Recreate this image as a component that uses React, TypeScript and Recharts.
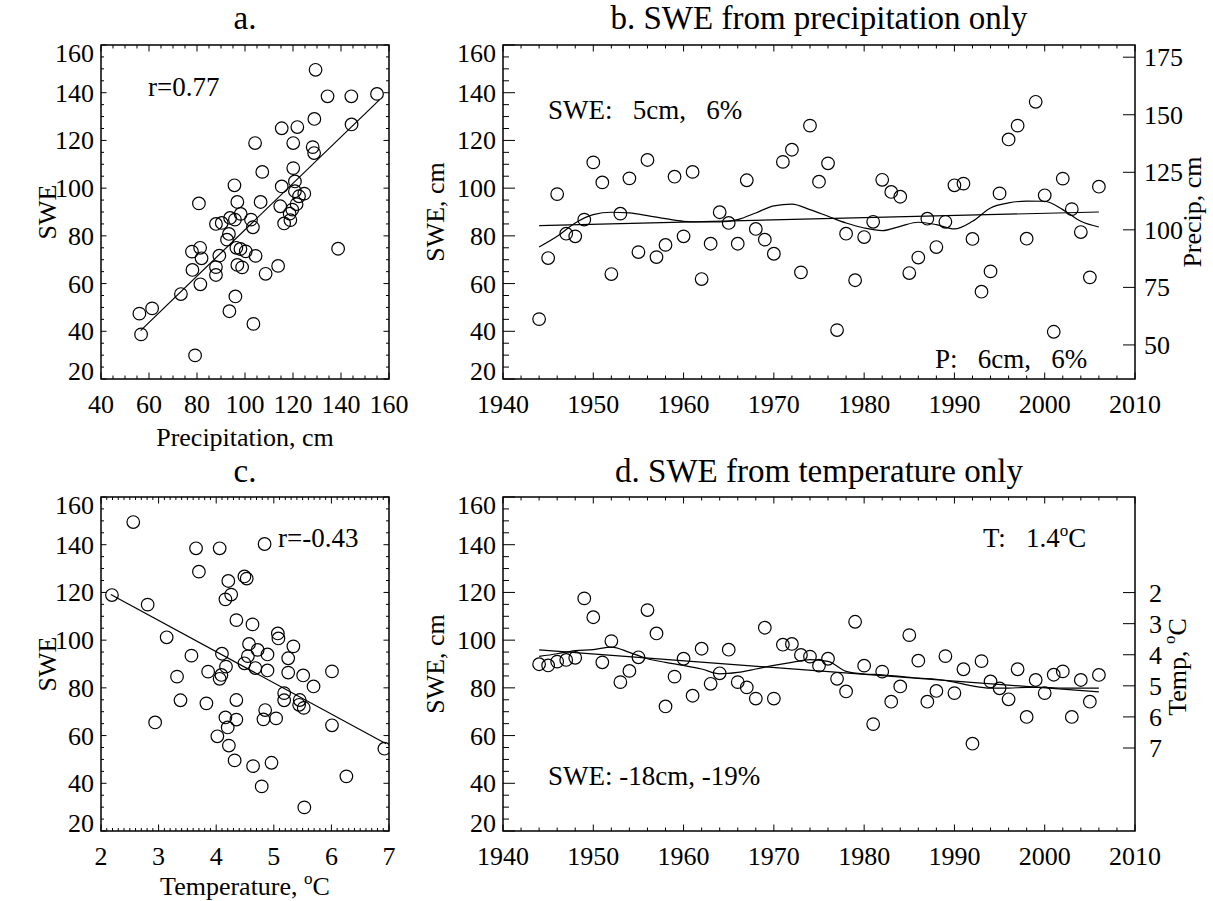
import React from 'react';
import { ComposedChart, Scatter, Line, XAxis, YAxis, ReferenceArea } from 'recharts';

const FONT = "'Liberation Serif', 'Times New Roman', Times, serif";
const INK = '#000';

// ---- panel a: SWE vs precipitation
const PRECIP_A = [129.4, 134.4, 144.3, 155.0, 128.9, 144.4, 115.3, 121.8, 120.1, 104.2, 128.2, 128.8, 107.2, 120.1, 120.8, 95.6, 115.3, 120.8, 122.5, 124.7, 96.8, 106.5, 80.8, 121.5, 114.7, 119.7, 98.2, 118.6, 93.8, 95.8, 90.3, 87.9, 102.5, 118.9, 116.3, 103.3, 93.3, 92.5, 81.3, 77.9, 96.4, 98.1, 100.3, 81.9, 89.3, 104.4, 138.8, 78.1, 87.9, 96.8, 98.8, 113.8, 108.6, 87.9, 81.4, 73.3, 96.0, 61.3, 56.0, 93.5, 56.7, 103.5, 79.2];
const SWE_A = [149.6, 138.5, 138.5, 139.5, 129.0, 126.7, 125.1, 125.6, 118.9, 118.9, 117.2, 114.7, 106.8, 108.4, 102.8, 101.2, 100.7, 98.7, 96.6, 97.7, 94.2, 94.2, 93.6, 93.3, 92.4, 91.0, 89.2, 89.3, 87.5, 86.8, 85.4, 85.0, 86.8, 86.6, 85.2, 83.6, 80.8, 78.4, 75.0, 73.4, 75.0, 74.5, 73.5, 70.6, 71.7, 71.6, 74.6, 65.7, 66.9, 67.8, 66.8, 67.4, 64.1, 63.6, 59.7, 55.6, 54.6, 49.6, 47.4, 48.4, 38.7, 43.1, 29.9];
const FIT_A_X = [56.5, 156];
const FIT_A_Y = [40.3, 137.0];

// ---- panel c: SWE vs temperature
const TEMP_C = [2.56, 2.19, 2.81, 3.14, 3.57, 3.32, 3.38, 2.94, 3.65, 4.06, 3.70, 3.86, 3.83, 4.49, 4.53, 4.21, 4.26, 4.16, 4.84, 4.35, 4.63, 4.10, 4.17, 4.09, 4.06, 4.57, 4.55, 4.49, 4.72, 4.68, 4.89, 4.89, 5.07, 5.08, 5.34, 5.25, 5.25, 5.51, 5.69, 5.18, 5.18, 5.45, 5.44, 5.52, 6.01, 6.01, 4.35, 4.16, 4.35, 4.85, 4.82, 5.04, 4.20, 4.02, 4.22, 4.32, 4.64, 4.96, 4.79, 6.26, 5.53, 6.92];
const SWE_C = [149.5, 118.9, 114.9, 101.2, 93.5, 84.7, 74.8, 65.5, 138.5, 138.5, 128.7, 86.8, 73.5, 126.7, 125.8, 124.8, 119.1, 117.1, 140.3, 108.4, 106.6, 94.3, 88.9, 85.4, 83.8, 98.4, 93.3, 90.3, 95.9, 88.3, 94.0, 87.3, 102.8, 100.7, 97.4, 92.4, 86.4, 85.2, 80.6, 77.8, 74.8, 74.9, 72.9, 71.6, 86.9, 64.3, 74.9, 67.6, 66.7, 70.7, 66.8, 67.2, 63.4, 59.7, 55.8, 49.6, 47.2, 48.6, 38.7, 42.9, 29.9, 54.5];
const FIT_C_X = [2.17, 6.95];
const FIT_C_Y = [119.1, 56.6];

// ---- panels b, d: yearly series
const YEARS = [1944, 1945, 1946, 1947, 1948, 1949, 1950, 1951, 1952, 1953, 1954, 1955, 1956, 1957, 1958, 1959, 1960, 1961, 1962, 1963, 1964, 1965, 1966, 1967, 1968, 1969, 1970, 1971, 1972, 1973, 1974, 1975, 1976, 1977, 1978, 1979, 1980, 1981, 1982, 1983, 1984, 1985, 1986, 1987, 1988, 1989, 1990, 1991, 1992, 1993, 1994, 1995, 1996, 1997, 1998, 1999, 2000, 2001, 2002, 2003, 2004, 2005, 2006];
const SWE_B = [45.1, 70.7, 97.5, 80.9, 79.8, 86.8, 110.8, 102.4, 64.0, 89.3, 104.1, 73.2, 111.8, 71.1, 76.2, 104.8, 79.8, 106.8, 61.9, 76.7, 89.9, 85.4, 76.7, 103.3, 82.9, 78.4, 72.5, 111.0, 116.1, 64.7, 126.2, 102.7, 110.4, 40.5, 80.9, 61.4, 79.5, 85.9, 103.5, 98.4, 96.4, 64.4, 70.9, 87.2, 75.3, 85.9, 101.2, 101.9, 78.7, 56.6, 65.1, 97.8, 120.4, 126.2, 78.8, 136.2, 97.0, 39.8, 104.0, 91.2, 81.6, 62.6, 100.6];
const SWE_D = [89.9, 89.4, 91.0, 91.7, 92.6, 117.5, 109.6, 90.7, 99.6, 82.4, 87.1, 92.8, 112.6, 102.8, 72.2, 84.7, 92.2, 76.7, 96.4, 81.7, 86.1, 96.0, 82.4, 80.2, 75.5, 105.2, 75.5, 98.1, 98.4, 93.8, 93.1, 89.3, 92.2, 83.8, 78.5, 107.7, 89.3, 64.8, 86.8, 74.2, 80.6, 102.1, 91.4, 74.2, 78.7, 93.3, 77.8, 87.8, 56.6, 91.2, 82.7, 79.8, 75.2, 87.8, 67.8, 83.3, 77.8, 85.5, 86.9, 67.8, 83.3, 74.2, 85.4];

const SMOOTH_YEARS = [1944, 1946, 1948, 1950, 1952, 1954, 1956, 1958, 1960, 1962, 1964, 1966, 1968, 1970, 1972, 1974, 1976, 1978, 1980, 1982, 1984, 1986, 1988, 1990, 1992, 1994, 1996, 1998, 2000, 2002, 2004, 2006];
const SMOOTH_B = [75.3, 79.8, 85.4, 88.9, 89.9, 89.6, 88.5, 87.2, 86.1, 85.8, 85.8, 86.8, 89.6, 92.6, 93.3, 91.0, 88.2, 85.4, 83.3, 82.2, 84.0, 85.7, 84.7, 82.9, 86.1, 91.7, 93.8, 94.6, 94.5, 91.0, 86.1, 83.7];
const SMOOTH_D = [93.2, 94.3, 95.6, 96.0, 97.1, 94.9, 92.2, 90.7, 89.4, 87.9, 85.9, 86.5, 87.9, 89.4, 90.7, 91.8, 91.1, 86.9, 85.8, 85.5, 84.8, 84.1, 83.6, 82.4, 80.8, 79.9, 79.9, 80.2, 80.2, 79.9, 79.9, 79.9];

const TREND_YEARS = [1944, 2006];
const TREND_B = [84.3, 90.0];
const TREND_D = [95.9, 78.3];

// axis ticks
const SWE_TICKS = [20, 40, 60, 80, 100, 120, 140, 160];
const PRECIP_TICKS = [40, 60, 80, 100, 120, 140, 160];
const TEMP_TICKS = [2, 3, 4, 5, 6, 7];
const YEAR_TICKS = [1940, 1950, 1960, 1970, 1980, 1990, 2000, 2010];
const PRECIP_RIGHT_TICKS = [50, 75, 100, 125, 150, 175];
const TEMP_RIGHT_TICKS = [2, 3, 4, 5, 6, 7];

const pts = (xs: number[], ys: number[]) => xs.map((x, i) => ({ x, y: ys[i] }));

function steps(lo: number, hi: number, step: number) {
  const out: number[] = [];
  const n = Math.round((hi - lo) / step);
  for (let i = 0; i <= n; i++) out.push(Math.round((lo + i * step) * 1000) / 1000);
  return out;
}

type Box = { l: number; r: number; t: number; b: number };

const isIn = (v: number, list: number[]) => list.some((m) => Math.abs(m - v) < 1e-6);

function xTick(box: Box, majors: number[], majLen: number, minLen: number) {
  return (p: any) => {
    const v = p.payload.value;
    const major = isIn(v, majors);
    const len = major ? majLen : minLen;
    return (
      <g>
        <line x1={p.x} x2={p.x} y1={box.b} y2={box.b - len} stroke={INK} strokeWidth={1} />
        <line x1={p.x} x2={p.x} y1={box.t} y2={box.t + len} stroke={INK} strokeWidth={1} />
        {major && (
          <text x={p.x} y={box.b + 34} textAnchor="middle" fontSize={26} fontFamily={FONT} fill={INK}>
            {v}
          </text>
        )}
      </g>
    );
  };
}

function yTick(box: Box, majors: number[], majLen: number, minLen: number, dom: number[], mirror: boolean) {
  return (p: any) => {
    const v = p.payload.value;
    const major = isIn(v, majors);
    const len = major ? majLen : minLen;
    let shift = 0;
    if (Math.abs(v - dom[1]) < 1e-6) shift = 8;
    if (Math.abs(v - dom[0]) < 1e-6) shift = -8;
    return (
      <g>
        <line x1={box.l} x2={box.l + len} y1={p.y} y2={p.y} stroke={INK} strokeWidth={1} />
        {mirror && <line x1={box.r} x2={box.r - len} y1={p.y} y2={p.y} stroke={INK} strokeWidth={1} />}
        {major && (
          <text x={box.l - 7} y={p.y + shift + 9} textAnchor="end" fontSize={26} fontFamily={FONT} fill={INK}>
            {v}
          </text>
        )}
      </g>
    );
  };
}

function rightTick(box: Box, len: number, gap: number) {
  return (p: any) => (
    <g>
      <line x1={box.r} x2={box.r - len} y1={p.y} y2={p.y} stroke={INK} strokeWidth={1} />
      <text x={box.r + gap} y={p.y + 9} textAnchor="start" fontSize={26} fontFamily={FONT} fill={INK}>
        {p.payload.value}
      </text>
    </g>
  );
}

const circle = (p: any) => (
  <circle cx={p.cx} cy={p.cy} r={6.3} fill="none" stroke={INK} strokeWidth={1.2} />
);

const CH = 460;
const PLOT_H = 334;
const X_AXIS_H = 81;

function ScatterPanel(props: {
  data: { x: number; y: number }[];
  fit: { x: number; y: number }[];
  xDom: number[];
  xTicks: number[];
  xMajors: number[];
  xMinLen: number;
  top: number;
}) {
  const { data, fit, xDom, xTicks, xMajors, xMinLen, top } = props;
  const yW = 101;
  const plotW = 288;
  const box: Box = { l: yW, r: yW + plotW, t: top, b: top + PLOT_H };
  const yDom = [20, 160];
  return (
    <ComposedChart width={yW + plotW + 31} height={top + PLOT_H + X_AXIS_H} margin={{ top, right: 31, left: 0, bottom: 0 }}>
      <XAxis dataKey="x" type="number" domain={xDom} allowDataOverflow ticks={xTicks} interval={0}
        height={X_AXIS_H} axisLine={false} tickLine={false} tick={xTick(box, xMajors, 6.5, xMinLen)} />
      <YAxis dataKey="y" type="number" domain={yDom} allowDataOverflow ticks={steps(20, 160, 5)} interval={0}
        width={yW} axisLine={false} tickLine={false} tick={yTick(box, SWE_TICKS, 5.5, 3, yDom, true)} />
      <ReferenceArea x1={xDom[0]} x2={xDom[1]} y1={yDom[0]} y2={yDom[1]} fill="none" fillOpacity={0} stroke={INK} strokeWidth={1.5} />
      <Scatter data={data} shape={circle} isAnimationActive={false} />
      <Line data={fit} dataKey="y" type="linear" stroke={INK} strokeWidth={1.2} dot={false} isAnimationActive={false} />
    </ComposedChart>
  );
}

function SeriesPanel(props: {
  data: { x: number; y: number }[];
  smooth: { x: number; y: number }[];
  trend: { x: number; y: number }[];
  rDom: number[];
  rTicks: number[];
  rReversed: boolean;
  rGap: number;
  top: number;
}) {
  const { data, smooth, trend, rDom, rTicks, rReversed, rGap, top } = props;
  const yW = 103;
  const rW = 78;
  const plotW = 632;
  const box: Box = { l: yW, r: yW + plotW, t: top, b: top + PLOT_H };
  const yDom = [20, 160];
  const xDom = [1940, 2010];
  return (
    <ComposedChart width={yW + plotW + rW} height={top + PLOT_H + X_AXIS_H} margin={{ top, right: 0, left: 0, bottom: 0 }}>
      <XAxis dataKey="x" type="number" domain={xDom} allowDataOverflow ticks={steps(1940, 2010, 2)} interval={0}
        height={X_AXIS_H} axisLine={false} tickLine={false} tick={xTick(box, YEAR_TICKS, 6.5, 3.5)} />
      <YAxis dataKey="y" type="number" domain={yDom} allowDataOverflow ticks={steps(20, 160, 5)} interval={0}
        width={yW} axisLine={false} tickLine={false} tick={yTick(box, SWE_TICKS, 12, 6, yDom, false)} />
      <YAxis yAxisId="r" orientation="right" type="number" domain={rDom} allowDataOverflow reversed={rReversed}
        ticks={rTicks} interval={0} width={rW} axisLine={false} tickLine={false} tick={rightTick(box, 12, rGap)} />
      <ReferenceArea x1={xDom[0]} x2={xDom[1]} y1={yDom[0]} y2={yDom[1]} fill="none" fillOpacity={0} stroke={INK} strokeWidth={1.5} />
      <Scatter data={data} shape={circle} isAnimationActive={false} />
      <Line data={trend} dataKey="y" type="linear" stroke={INK} strokeWidth={1.2} dot={false} isAnimationActive={false} />
      <Line data={smooth} dataKey="y" type="monotone" stroke={INK} strokeWidth={1.2} dot={false} isAnimationActive={false} />
    </ComposedChart>
  );
}

const txt = { fontFamily: FONT, fill: INK } as const;

export default function App() {
  const sup = (
    <>
      <tspan dy={-11} fontSize={17}>o</tspan>
      <tspan dy={11}>C</tspan>
    </>
  );
  return (
    <div style={{ position: 'absolute', left: 0, top: 0, width: 1213, height: 901, background: '#fff' }}>
      <div style={{ position: 'absolute', left: 0, top: 0 }}>
        <ScatterPanel data={pts(PRECIP_A, SWE_A)} fit={pts(FIT_A_X, FIT_A_Y)} xDom={[40, 160]}
          xTicks={steps(40, 160, 5)} xMajors={PRECIP_TICKS} xMinLen={3.5} top={45} />
      </div>
      <div style={{ position: 'absolute', left: 400, top: 0 }}>
        <SeriesPanel data={pts(YEARS, SWE_B)} smooth={pts(SMOOTH_YEARS, SMOOTH_B)} trend={pts(TREND_YEARS, TREND_B)}
          rDom={[35.2, 180.3]} rTicks={PRECIP_RIGHT_TICKS} rReversed={false} rGap={9} top={45} />
      </div>
      <div style={{ position: 'absolute', left: 0, top: 452 }}>
        <ScatterPanel data={pts(TEMP_C, SWE_C)} fit={pts(FIT_C_X, FIT_C_Y)} xDom={[2, 7]}
          xTicks={steps(2, 7, 0.1)} xMajors={TEMP_TICKS} xMinLen={3} top={45} />
      </div>
      <div style={{ position: 'absolute', left: 400, top: 452 }}>
        <SeriesPanel data={pts(YEARS, SWE_D)} smooth={pts(SMOOTH_YEARS, SMOOTH_D)} trend={pts(TREND_YEARS, TREND_D)}
          rDom={[-1.075, 9.67]} rTicks={TEMP_RIGHT_TICKS} rReversed={true} rGap={14} top={45} />
      </div>

      <svg width={1213} height={901} style={{ position: 'absolute', left: 0, top: 0, pointerEvents: 'none' }}>
        {/* titles */}
        <text x={245} y={29} textAnchor="middle" fontSize={33} {...txt}>a.</text>
        <text x={819} y={29} textAnchor="middle" fontSize={33} {...txt}>b. SWE from precipitation only</text>
        <text x={245} y={482} textAnchor="middle" fontSize={33} {...txt}>c.</text>
        <text x={819} y={482} textAnchor="middle" fontSize={33} {...txt}>d. SWE from temperature only</text>

        {/* axis titles */}
        <text x={245} y={446} textAnchor="middle" fontSize={26} {...txt}>Precipitation, cm</text>
        <text x={245} y={895} textAnchor="middle" fontSize={26} {...txt}>Temperature, {sup}</text>
        <text x={56} y={212} textAnchor="middle" fontSize={26} transform="rotate(-90 56 212)" {...txt}>SWE</text>
        <text x={56} y={664} textAnchor="middle" fontSize={26} transform="rotate(-90 56 664)" {...txt}>SWE</text>
        <text x={444} y={212} textAnchor="middle" fontSize={26} transform="rotate(-90 444 212)" {...txt}>SWE, cm</text>
        <text x={444} y={664} textAnchor="middle" fontSize={26} transform="rotate(-90 444 664)" {...txt}>SWE, cm</text>
        <text x={1201} y={212} textAnchor="middle" fontSize={26} transform="rotate(-90 1201 212)" {...txt}>Precip, cm</text>
        <text x={1186} y={667} textAnchor="middle" fontSize={26} transform="rotate(-90 1186 667)" {...txt}>Temp, {sup}</text>

        {/* annotations */}
        <text x={148} y={96} fontSize={27} {...txt}>r=0.77</text>
        <text x={548} y={119} fontSize={27} style={{ whiteSpace: 'pre' }} {...txt}>{'SWE:   5cm,   6%'}</text>
        <text x={935} y={368} fontSize={27} style={{ whiteSpace: 'pre' }} {...txt}>{'P:   6cm,   6%'}</text>
        <text x={278} y={547} fontSize={27} {...txt}>r=-0.43</text>
        <text x={983} y={547} fontSize={27} style={{ whiteSpace: 'pre' }} {...txt}>{'T:   1.4'}{sup}</text>
        <text x={548} y={785} fontSize={27} style={{ whiteSpace: 'pre' }} {...txt}>{'SWE: -18cm, -19%'}</text>
      </svg>
    </div>
  );
}
